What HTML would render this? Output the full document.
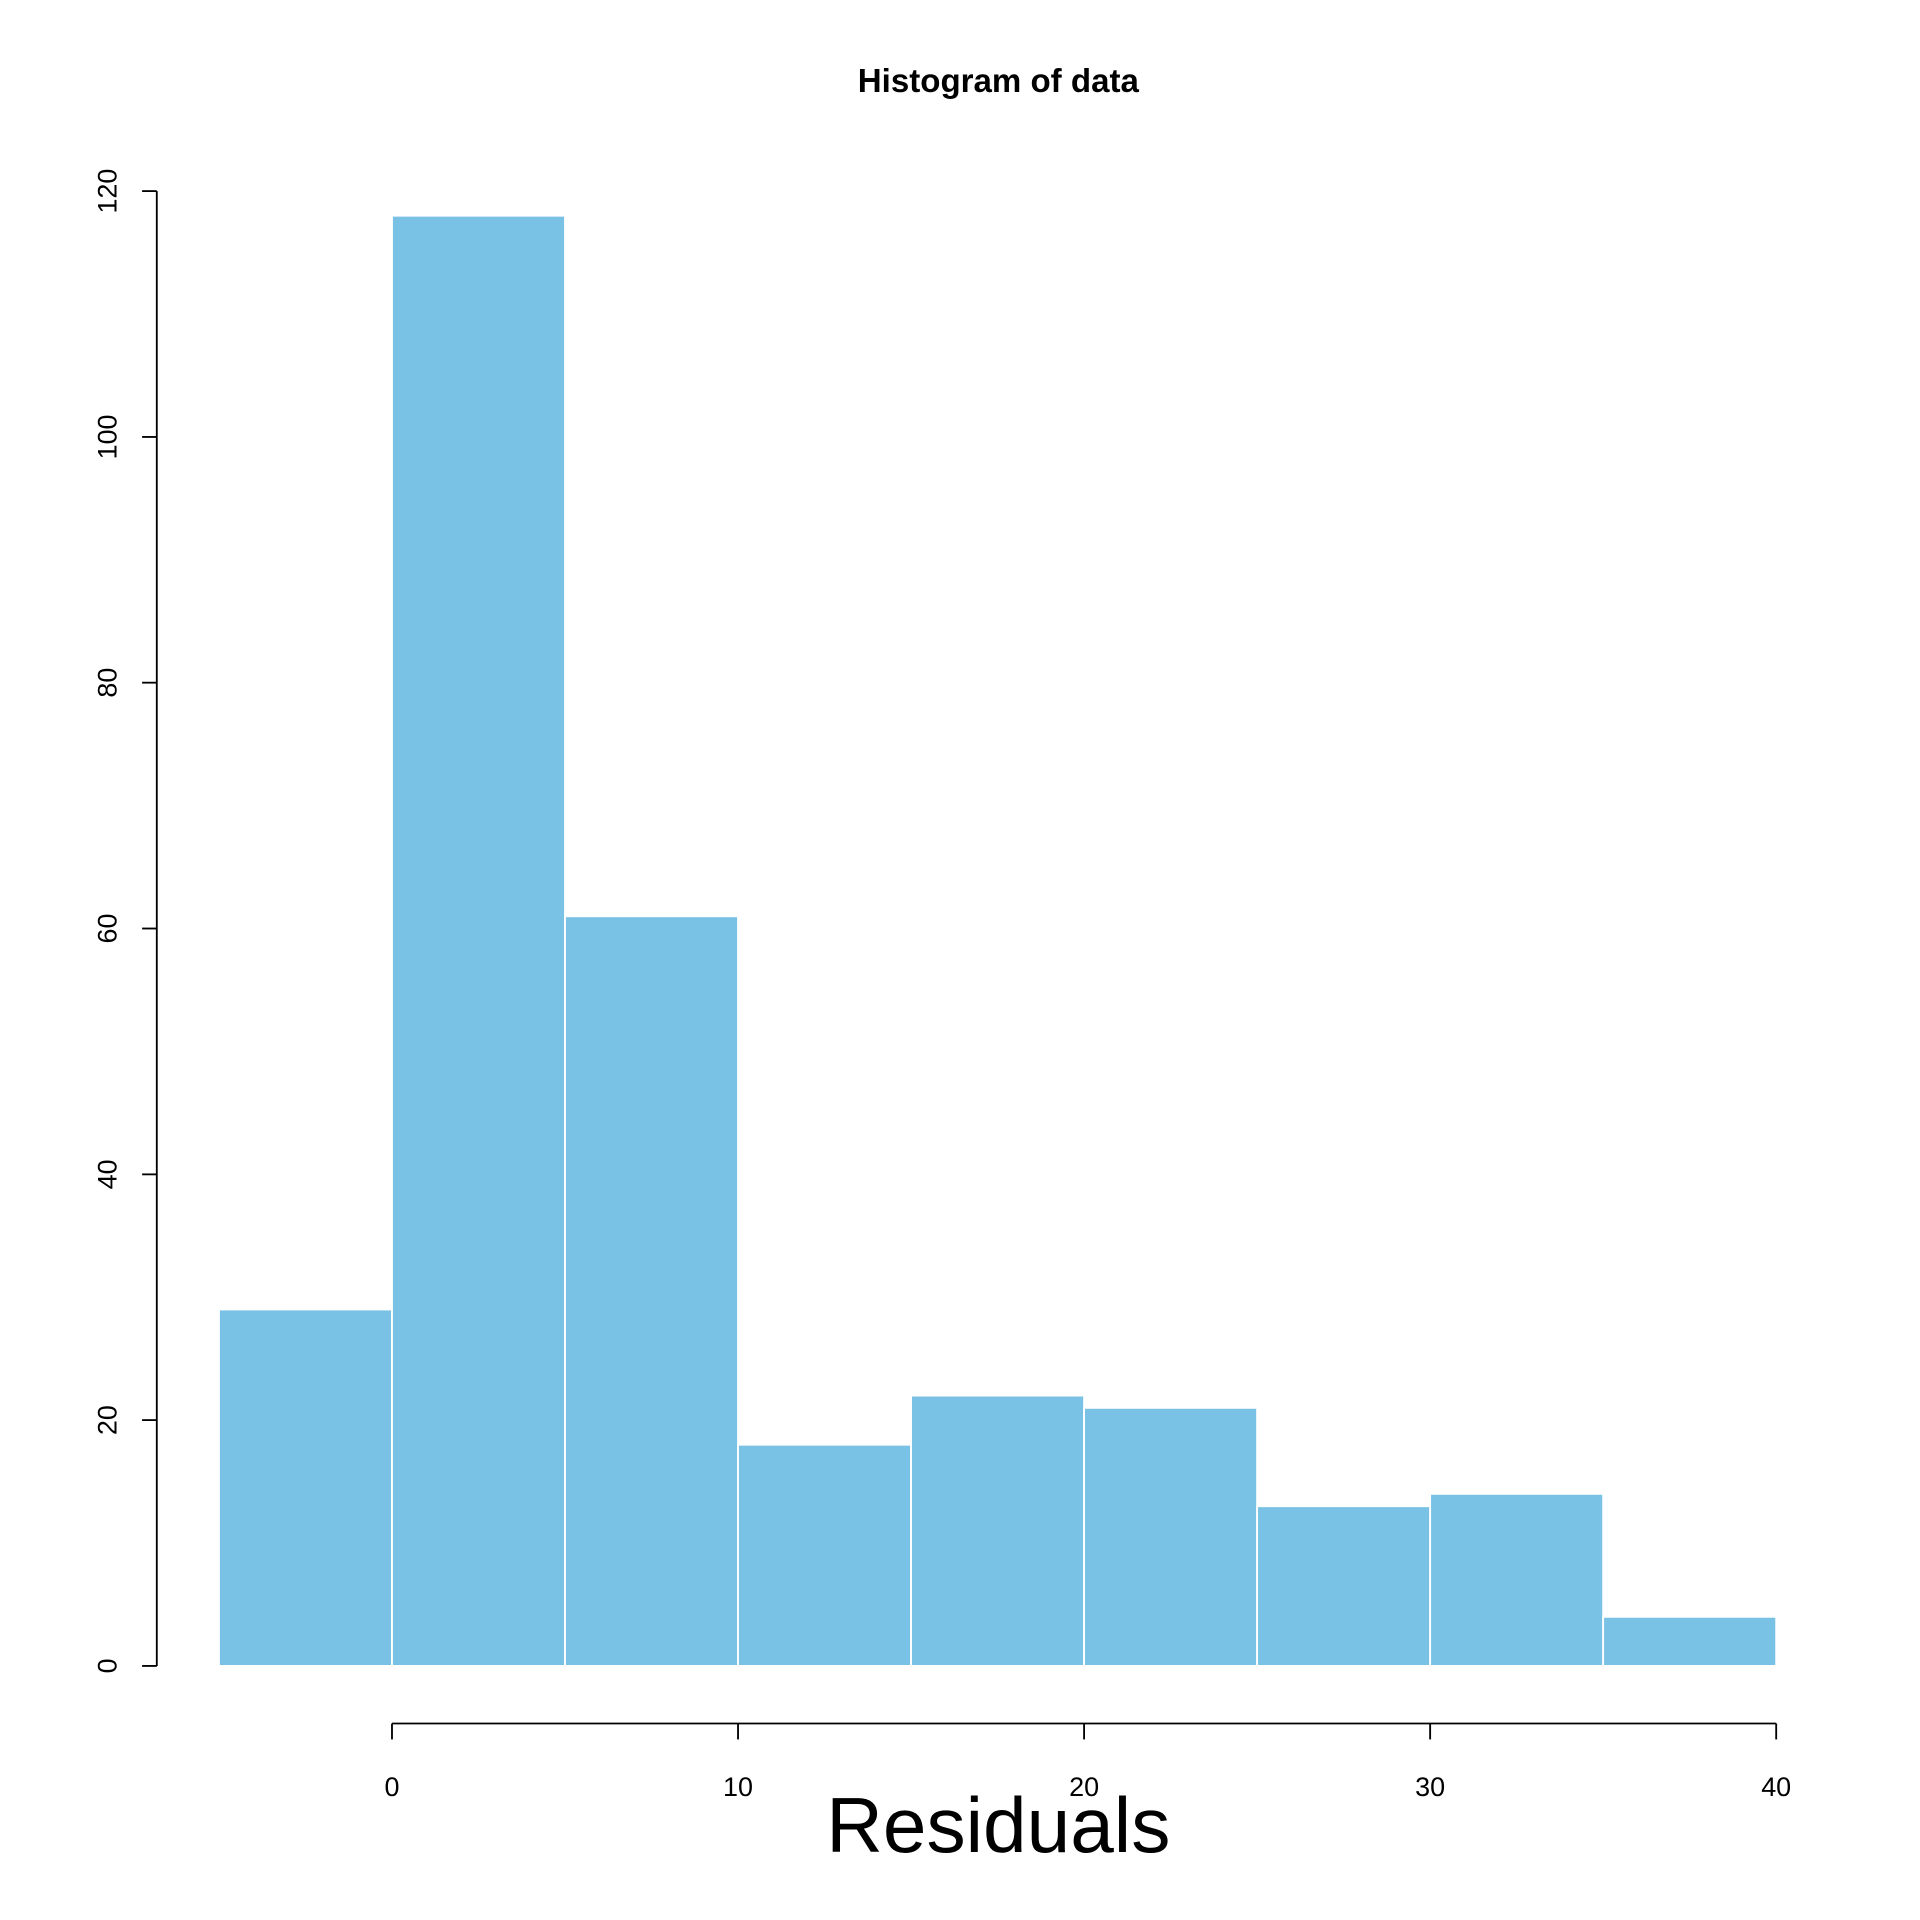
<!DOCTYPE html>
<html><head><style>html,body{margin:0;padding:0;background:#fff}svg{display:block}</style></head>
<body>
<svg width="1920" height="1920" viewBox="0 0 1567.4 1567.4" xmlns="http://www.w3.org/2000/svg" font-family="Liberation Sans, Arial, sans-serif">
<rect width="1567.4" height="1567.4" fill="#fff"/>
<text x="815" y="75" font-size="27" font-weight="bold" text-anchor="middle">Histogram of data</text>
<g fill="#79C2E5" stroke="#fff" stroke-width="1.5">
<rect x="178.75" y="1069.0" width="141.25" height="291.0"/>
<rect x="320" y="176.1" width="141.25" height="1183.9"/>
<rect x="461.25" y="748.0" width="141.25" height="612.0"/>
<rect x="602.5" y="1179.4" width="141.25" height="180.6"/>
<rect x="743.75" y="1139.3" width="141.25" height="220.7"/>
<rect x="885" y="1149.3" width="141.25" height="210.7"/>
<rect x="1026.25" y="1229.6" width="141.25" height="130.4"/>
<rect x="1167.5" y="1219.5" width="141.25" height="140.5"/>
<rect x="1308.75" y="1319.9" width="141.25" height="40.1"/>
</g>
<g stroke="#000" stroke-width="1.5" fill="none">
<line x1="128" y1="156" x2="128" y2="1360"/>
<line x1="116" y1="1360" x2="128" y2="1360"/>
<line x1="116" y1="1159.3" x2="128" y2="1159.3"/>
<line x1="116" y1="958.7" x2="128" y2="958.7"/>
<line x1="116" y1="758" x2="128" y2="758"/>
<line x1="116" y1="557.3" x2="128" y2="557.3"/>
<line x1="116" y1="356.7" x2="128" y2="356.7"/>
<line x1="116" y1="156" x2="128" y2="156"/>
<line x1="320" y1="1407" x2="1450" y2="1407"/>
<line x1="320" y1="1407" x2="320" y2="1420"/>
<line x1="602.5" y1="1407" x2="602.5" y2="1420"/>
<line x1="885" y1="1407" x2="885" y2="1420"/>
<line x1="1167.5" y1="1407" x2="1167.5" y2="1420"/>
<line x1="1450" y1="1407" x2="1450" y2="1420"/>
</g>
<g font-size="22" text-anchor="middle">
<text x="320" y="1466">0</text>
<text x="602.5" y="1466">10</text>
<text x="885" y="1466">20</text>
<text x="1167.5" y="1466">30</text>
<text x="1450" y="1466">40</text>
<text transform="translate(95,1360) rotate(-90)">0</text>
<text transform="translate(95,1159.3) rotate(-90)">20</text>
<text transform="translate(95,958.7) rotate(-90)">40</text>
<text transform="translate(95,758) rotate(-90)">60</text>
<text transform="translate(95,557.3) rotate(-90)">80</text>
<text transform="translate(95,356.7) rotate(-90)">100</text>
<text transform="translate(95,156) rotate(-90)">120</text>
</g>
<text x="815" y="1512" font-size="64" text-anchor="middle">Residuals</text>
</svg>
</body></html>
